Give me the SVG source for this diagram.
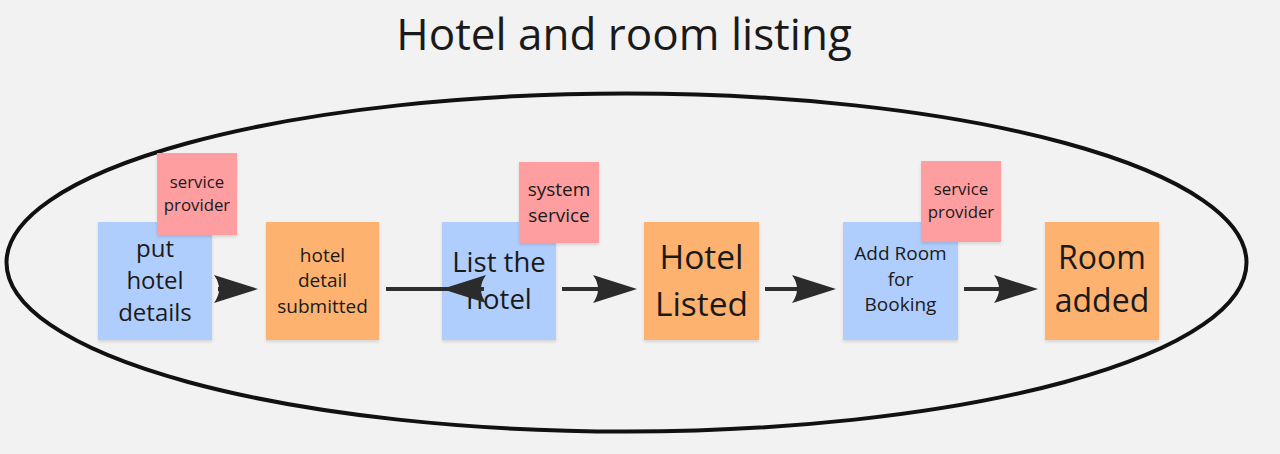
<svg xmlns="http://www.w3.org/2000/svg" width="1280" height="454" viewBox="0 0 1280 454">
<style>
.t{font-family:"Open Sans","Noto Sans","Liberation Sans",sans-serif;fill:#1a1a1a;text-anchor:middle}
.blue{fill:#b0cefd}
.orange{fill:#fdb270}
.pink{fill:#fe9ea1}
.note{filter:url(#sh)}
.conn{stroke:#2e2e2e;stroke-width:4;fill:none}
</style>
<defs>
<filter id="sh" x="-10%" y="-10%" width="130%" height="130%">
<feDropShadow dx="0" dy="2" stdDeviation="1.5" flood-color="#000" flood-opacity="0.12"/>
</filter>
<marker id="ah" viewBox="0 0 44 28" refX="9" refY="14" markerWidth="44" markerHeight="28" markerUnits="userSpaceOnUse" orient="auto">
<path d="M0,0 L44,14 L0,28 Q10,14 0,0 z" fill="#2b2b2b"/>
</marker>
</defs>
<rect width="1280" height="454" fill="#f2f2f2"/>
<text class="t" x="624" y="50" font-size="44">Hotel and room listing</text>
<ellipse cx="626.5" cy="262.5" rx="620" ry="169" fill="none" stroke="#111" stroke-width="4"/>

<g id="n1">
<rect class="blue note" x="98" y="222" width="114" height="118"/>
<text class="t" font-size="24"><tspan x="155" y="257">put</tspan><tspan x="155" y="289">hotel</tspan><tspan x="155" y="321">details</tspan></text>
</g>
<g id="p1">
<rect class="pink note" x="157" y="153" width="80" height="82"/>
<text class="t" font-size="16.8"><tspan x="197" y="188">service</tspan><tspan x="197" y="211">provider</tspan></text>
</g>
<g id="n2">
<rect class="orange note" x="266" y="222" width="113" height="118"/>
<text class="t" font-size="19"><tspan x="322.5" y="262">hotel</tspan><tspan x="322.5" y="287">detail</tspan><tspan x="322.5" y="313">submitted</tspan></text>
</g>
<g id="n3">
<rect class="blue note" x="442" y="222" width="114" height="118"/>
<text class="t" font-size="27.5"><tspan x="499" y="272">List the</tspan><tspan x="499" y="309">hotel</tspan></text>
</g>
<g id="p2">
<rect class="pink note" x="519" y="162" width="80" height="81"/>
<text class="t" font-size="19"><tspan x="559" y="196">system</tspan><tspan x="559" y="222">service</tspan></text>
</g>
<g id="n4">
<rect class="orange note" x="644" y="222" width="115" height="118"/>
<text class="t" font-size="33.5"><tspan x="701.5" y="269">Hotel</tspan><tspan x="701.5" y="316">Listed</tspan></text>
</g>
<g id="n5">
<rect class="blue note" x="843" y="222" width="115" height="118"/>
<text class="t" font-size="19"><tspan x="900.5" y="260">Add Room</tspan><tspan x="900.5" y="286">for</tspan><tspan x="900.5" y="311">Booking</tspan></text>
</g>
<g id="p3">
<rect class="pink note" x="921" y="161" width="80" height="81"/>
<text class="t" font-size="16.8"><tspan x="961" y="195">service</tspan><tspan x="961" y="218">provider</tspan></text>
</g>
<g id="n6">
<rect class="orange note" x="1045" y="222" width="114" height="118"/>
<text class="t" font-size="32"><tspan x="1102" y="269">Room</tspan><tspan x="1102" y="312">added</tspan></text>
</g>

<g id="connectors">
<path class="conn" d="M218,289 L223,289" marker-end="url(#ah)"/>
<path class="conn" d="M386,289 L484,289 L477,289" marker-end="url(#ah)"/>
<path class="conn" d="M562,289 L602,289" marker-end="url(#ah)"/>
<path class="conn" d="M765,289 L801,289" marker-end="url(#ah)"/>
<path class="conn" d="M964,289 L1003,289" marker-end="url(#ah)"/>
</g>
</svg>
